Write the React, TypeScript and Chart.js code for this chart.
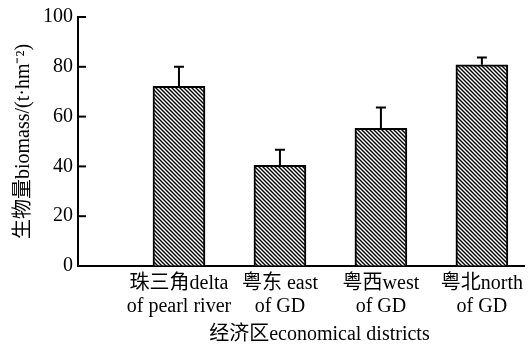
import { useEffect, useRef } from "react";
import { Chart, registerables } from "chart.js";

Chart.register(...registerables);

const categories: string[][] = [
  ["珠三角delta", "of pearl river"],
  ["粤东 east", "of GD"],
  ["粤西west", "of GD"],
  ["粤北north", "of GD"],
];
const biomass = [72.2, 40.4, 55.3, 80.8];
const errors = [7.8, 6.3, 8.4, 2.9];
const yTickValues = [0, 20, 40, 60, 80, 100];
const yTitle = "生物量biomass/(t·hm⁻²)";
const xTitle = "经济区economical districts";

const FONT = "'Liberation Serif', 'Times New Roman', 'Noto Sans CJK SC', serif";

function makeHatch(): CanvasPattern | string {
  const c = document.createElement("canvas");
  c.width = 4;
  c.height = 4;
  const g = c.getContext("2d");
  if (!g) return "#888";
  g.fillStyle = "#fff";
  g.fillRect(0, 0, 4, 4);
  g.strokeStyle = "#000";
  g.lineWidth = 1.4;
  g.beginPath();
  g.moveTo(-1, -1);
  g.lineTo(5, 5);
  g.moveTo(-1, 3);
  g.lineTo(1, 5);
  g.moveTo(3, -1);
  g.lineTo(5, 1);
  g.stroke();
  const p = g.createPattern(c, "repeat");
  return p || "#888";
}

export default function App() {
  const ref = useRef<HTMLCanvasElement | null>(null);

  useEffect(() => {
    if (!ref.current) return;
    const hatch = makeHatch();

    const extras = {
      id: "extras",
      afterDatasetsDraw(chart: any) {
        const ctx = chart.ctx;
        const ys = chart.scales.y;
        const xs = chart.scales.x;
        const area = chart.chartArea;
        ctx.save();
        ctx.strokeStyle = "#000";
        ctx.lineWidth = 2;
        // inward y ticks
        yTickValues.forEach((v) => {
          const py = ys.getPixelForValue(v);
          ctx.beginPath();
          ctx.moveTo(area.left, py);
          ctx.lineTo(area.left + 8, py);
          ctx.stroke();
        });
        // error bars
        const meta = chart.getDatasetMeta(0);
        meta.data.forEach((bar: any, i: number) => {
          const x = bar.x;
          const y0 = ys.getPixelForValue(biomass[i]);
          const y1 = ys.getPixelForValue(biomass[i] + errors[i]);
          ctx.beginPath();
          ctx.moveTo(x, y0);
          ctx.lineTo(x, y1);
          ctx.moveTo(x - 5, y1);
          ctx.lineTo(x + 5, y1);
          ctx.stroke();
        });
        // x title
        ctx.fillStyle = "#000";
        ctx.font = `20px ${FONT}`;
        ctx.textAlign = "center";
        ctx.textBaseline = "alphabetic";
        const cx =
          (xs.getPixelForValue(1) + xs.getPixelForValue(categories.length)) / 2 - 11;
        ctx.fillText(xTitle, cx, chart.height - 5);
        ctx.restore();
      },
    };

    const chart = new Chart(ref.current, {
      type: "bar",
      data: {
        datasets: [
          {
            data: biomass.map((v, i) => ({ x: i + 1, y: v })) as any,
            backgroundColor: hatch as any,
            borderColor: "#000",
            borderWidth: 2,
            barThickness: 52,
          },
        ],
      },
      options: {
        responsive: false,
        animation: false,
        devicePixelRatio: 1,
        layout: { padding: { top: 8, right: 0, bottom: 21, left: 12 } },
        plugins: { legend: { display: false }, tooltip: { enabled: false } },
        scales: {
          x: {
            type: "linear",
            offset: false,
            min: 0,
            max: 4.42,
            afterBuildTicks: (s: any) => {
              s.ticks = categories.map((_, i) => ({ value: i + 1 }));
            },
            ticks: {
              callback: (v: any) => categories[Number(v) - 1] ?? "",
              color: "#000",
              font: { family: FONT, size: 20, lineHeight: 1.15 },
              padding: 6,
              maxRotation: 0,
              autoSkip: false,
            },
            grid: { drawOnChartArea: false, drawTicks: false },
            border: { color: "#000", width: 2 },
          },
          y: {
            min: 0,
            max: 100,
            afterBuildTicks: (s: any) => {
              s.ticks = yTickValues.map((v) => ({ value: v }));
            },
            ticks: {
              color: "#000",
              font: { family: FONT, size: 20 },
              padding: 5,
            },
            grid: { drawOnChartArea: false, drawTicks: false },
            border: { color: "#000", width: 2 },
            title: {
              display: true,
              text: yTitle,
              color: "#000",
              font: { family: FONT, size: 20 },
              padding: { top: 0, bottom: 2 },
            },
          },
        },
      },
      plugins: [extras],
    });
    return () => chart.destroy();
  }, []);

  return (
    <div style={{ position: "fixed", left: 0, top: 0, width: 529, height: 345, background: "#fff" }}>
      <canvas ref={ref} width={529} height={345} />
    </div>
  );
}
